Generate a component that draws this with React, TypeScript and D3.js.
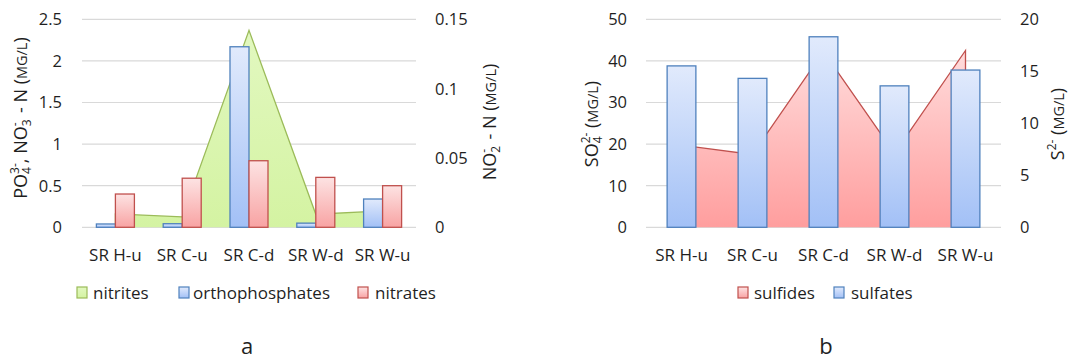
import React from "react";
import * as d3 from "d3";

// Sampling sites (shared by both panels)
const sites = ["SR H-u", "SR C-u", "SR C-d", "SR W-d", "SR W-u"];

// Panel a: nutrients
const nitrites = [0.0097, 0.0075, 0.142, 0.0094, 0.0118]; // NO2- - N, right axis
const orthophosphates = [0.04, 0.043, 2.17, 0.05, 0.34]; // PO4 3-, left axis
const nitrates = [0.4, 0.59, 0.8, 0.6, 0.5]; // NO3- - N, left axis
const leftTicksA = [0, 0.5, 1, 1.5, 2, 2.5];
const rightTicksA = [0, 0.05, 0.1, 0.15];

// Panel b: sulfur species
const sulfides = [7.9, 7.0, 16.9, 7.1, 17.0]; // S2-, right axis
const sulfates = [38.8, 35.8, 45.8, 34.0, 37.8]; // SO4 2-, left axis
const leftTicksB = [0, 10, 20, 30, 40, 50];
const rightTicksB = [0, 5, 10, 15, 20];

const FONT = "'Open Sans', 'Noto Sans', sans-serif";
const TXT = "#1f1f1f";
const GRID = "#d9d9d9";
const BLUE_EDGE = "#4f81bd";
const RED_EDGE = "#c0504d";
const GREEN_EDGE = "#9bbb59";

const Y_TOP = 19.3;
const Y_BOT = 227.3;

function Grid({ x0, x1, ticks, y }: any) {
  return (
    <g>
      {ticks.map((t: number) => (
        <line key={t} x1={x0} x2={x1} y1={y(t)} y2={y(t)} stroke={GRID} strokeWidth={1.2} />
      ))}
    </g>
  );
}

function TickLabels({ ticks, y, x, anchor }: any) {
  return (
    <g fontSize={16.5} fill={TXT}>
      {ticks.map((t: number) => (
        <text key={t} x={x} y={y(t)} dy="0.36em" textAnchor={anchor}>
          {String(t)}
        </text>
      ))}
    </g>
  );
}

function XLabels({ x }: any) {
  return (
    <g fontSize={17} fill={TXT} textAnchor="middle">
      {sites.map((s) => (
        <text key={s} x={(x(s) as number) + x.bandwidth() / 2} y={261}>
          {s}
        </text>
      ))}
    </g>
  );
}

function Swatch({ x, y, fill, stroke }: any) {
  return <rect x={x} y={y} width={10} height={11} fill={fill} stroke={stroke} strokeWidth={1.2} />;
}

function AreaSeries({ values, x, y, fill, stroke }: any) {
  const cx = (i: number) => (x(sites[i]) as number) + x.bandwidth() / 2;
  const area = d3
    .area<number>()
    .x((_, i) => cx(i))
    .y0(y(0))
    .y1((d) => y(d));
  const pts: [number, number][] = [
    [cx(0), y(0)],
    ...values.map((v: number, i: number) => [cx(i), y(v)] as [number, number]),
    [cx(values.length - 1), y(0)],
  ];
  const line = d3.line();
  return (
    <g>
      <path d={area(values) || ""} fill={fill} />
      <path d={line(pts) || ""} fill="none" stroke={stroke} strokeWidth={1.3} strokeLinejoin="miter" />
    </g>
  );
}

function Bars({ values, xPos, width, y, fill, stroke }: any) {
  return (
    <g>
      {values.map((v: number, i: number) => (
        <rect
          key={i}
          x={xPos(i)}
          y={y(v)}
          width={width}
          height={y(0) - y(v)}
          fill={fill}
          stroke={stroke}
          strokeWidth={1.3}
        />
      ))}
    </g>
  );
}

const TS = 18; // axis title size
const SM = 12; // sub/superscript size
const SW = 6.9; // width of one sub/superscript digit
const CAP = 14.5; // small-caps unit size

function PanelA() {
  const x = d3.scaleBand<string>().domain(sites).range([82, 416]).paddingInner(0.431).paddingOuter(0.2155);
  const yL = d3.scaleLinear().domain([0, 2.5]).range([Y_BOT, Y_TOP]);
  const yR = d3.scaleLinear().domain([0, 0.15]).range([Y_BOT, Y_TOP]);
  const half = x.bandwidth() / 2;
  return (
    <g>
      <Grid x0={82} x1={416} ticks={leftTicksA} y={yL} />
      <AreaSeries values={nitrites} x={x} y={yR} fill="url(#gGreen)" stroke={GREEN_EDGE} />
      <Bars
        values={orthophosphates}
        xPos={(i: number) => x(sites[i]) as number}
        width={half}
        y={yL}
        fill="url(#gBlue)"
        stroke={BLUE_EDGE}
      />
      <Bars
        values={nitrates}
        xPos={(i: number) => (x(sites[i]) as number) + half}
        width={half}
        y={yL}
        fill="url(#gRed)"
        stroke={RED_EDGE}
      />
      <TickLabels ticks={leftTicksA} y={yL} x={62} anchor="end" />
      <TickLabels ticks={rightTicksA} y={yR} x={435} anchor="start" />
      <XLabels x={x} />

      <text transform="translate(27,118) rotate(-90)" textAnchor="middle" fontSize={TS} fill={TXT} style={{ whiteSpace: "pre" }}>
        <tspan>PO</tspan>
        <tspan fontSize={SM} dy={4}>4</tspan>
        <tspan fontSize={SM} dx={-SW} dy={-12}>3-</tspan>
        <tspan dy={8}>, NO</tspan>
        <tspan fontSize={SM} dy={4}>3</tspan>
        <tspan fontSize={SM} dx={-SW} dy={-12}>-</tspan>
        <tspan dy={8}>{"  - N ("}</tspan>
        <tspan fontSize={CAP}>MG/L</tspan>
        <tspan>)</tspan>
      </text>

      <text transform="translate(496,122) rotate(-90)" textAnchor="middle" fontSize={TS} fill={TXT} style={{ whiteSpace: "pre" }}>
        <tspan>NO</tspan>
        <tspan fontSize={SM} dy={4}>2</tspan>
        <tspan fontSize={SM} dx={-SW} dy={-12}>-</tspan>
        <tspan dy={8}>{"  - N ("}</tspan>
        <tspan fontSize={CAP}>MG/L</tspan>
        <tspan>)</tspan>
      </text>

      <g fontSize={17} fill={TXT}>
        <Swatch x={77} y={287} fill="url(#gGreen)" stroke={GREEN_EDGE} />
        <text x={93} y={299}>nitrites</text>
        <Swatch x={179} y={287} fill="url(#gBlue)" stroke={BLUE_EDGE} />
        <text x={193} y={299}>orthophosphates</text>
        <Swatch x={358} y={287} fill="url(#gRed)" stroke={RED_EDGE} />
        <text x={375} y={299}>nitrates</text>
      </g>

      <text x={247} y={354} fontSize={22} fill={TXT} textAnchor="middle">a</text>
    </g>
  );
}

function PanelB() {
  const x = d3.scaleBand<string>().domain(sites).range([646, 1001]).paddingInner(0.595).paddingOuter(0.2975);
  const yL = d3.scaleLinear().domain([0, 50]).range([Y_BOT, Y_TOP]);
  const yR = d3.scaleLinear().domain([0, 20]).range([Y_BOT, Y_TOP]);
  return (
    <g>
      <Grid x0={646} x1={1001} ticks={leftTicksB} y={yL} />
      <AreaSeries values={sulfides} x={x} y={yR} fill="url(#gRedArea)" stroke={RED_EDGE} />
      <Bars
        values={sulfates}
        xPos={(i: number) => x(sites[i]) as number}
        width={x.bandwidth()}
        y={yL}
        fill="url(#gBlue)"
        stroke={BLUE_EDGE}
      />
      <TickLabels ticks={leftTicksB} y={yL} x={627} anchor="end" />
      <TickLabels ticks={rightTicksB} y={yR} x={1020} anchor="start" />
      <XLabels x={x} />

      <text transform="translate(598,124) rotate(-90)" textAnchor="middle" fontSize={TS} fill={TXT} style={{ whiteSpace: "pre" }}>
        <tspan>SO</tspan>
        <tspan fontSize={SM} dy={4}>4</tspan>
        <tspan fontSize={SM} dx={-SW} dy={-12}>2-</tspan>
        <tspan dy={8}>{" ("}</tspan>
        <tspan fontSize={CAP}>MG/L</tspan>
        <tspan>)</tspan>
      </text>

      <text transform="translate(1064,124) rotate(-90)" textAnchor="middle" fontSize={TS} fill={TXT} style={{ whiteSpace: "pre" }}>
        <tspan>S</tspan>
        <tspan fontSize={SM} dy={-8}>2-</tspan>
        <tspan dy={8}>{" ("}</tspan>
        <tspan fontSize={CAP}>MG/L</tspan>
        <tspan>)</tspan>
      </text>

      <g fontSize={17} fill={TXT}>
        <Swatch x={738} y={287} fill="url(#gRed)" stroke={RED_EDGE} />
        <text x={754} y={299}>sulfides</text>
        <Swatch x={834} y={287} fill="url(#gBlue)" stroke={BLUE_EDGE} />
        <text x={851} y={299}>sulfates</text>
      </g>

      <text x={826} y={354} fontSize={22} fill={TXT} textAnchor="middle">b</text>
    </g>
  );
}

export default function App() {
  return (
    <svg
      width={1069}
      height={361}
      viewBox="0 0 1069 361"
      style={{ position: "absolute", left: 0, top: 0, background: "#fff", fontFamily: FONT }}
    >
      <defs>
        <linearGradient id="gBlue" x1="0" y1="0" x2="0" y2="1">
          <stop offset="0" stopColor="#e1eafc" />
          <stop offset="1" stopColor="#a2c0f6" />
        </linearGradient>
        <linearGradient id="gRed" x1="0" y1="0" x2="0" y2="1">
          <stop offset="0" stopColor="#fde3e3" />
          <stop offset="1" stopColor="#f8a3a3" />
        </linearGradient>
        <linearGradient id="gGreen" x1="0" y1="0" x2="0" y2="1">
          <stop offset="0" stopColor="#e2f8c0" />
          <stop offset="1" stopColor="#d4f3a2" />
        </linearGradient>
        <linearGradient id="gRedArea" x1="0" y1="0" x2="0" y2="1">
          <stop offset="0" stopColor="#ffdcdc" />
          <stop offset="1" stopColor="#ff9e9e" />
        </linearGradient>
      </defs>
      <rect width={1069} height={361} fill="#fff" />
      <PanelA />
      <PanelB />
    </svg>
  );
}
